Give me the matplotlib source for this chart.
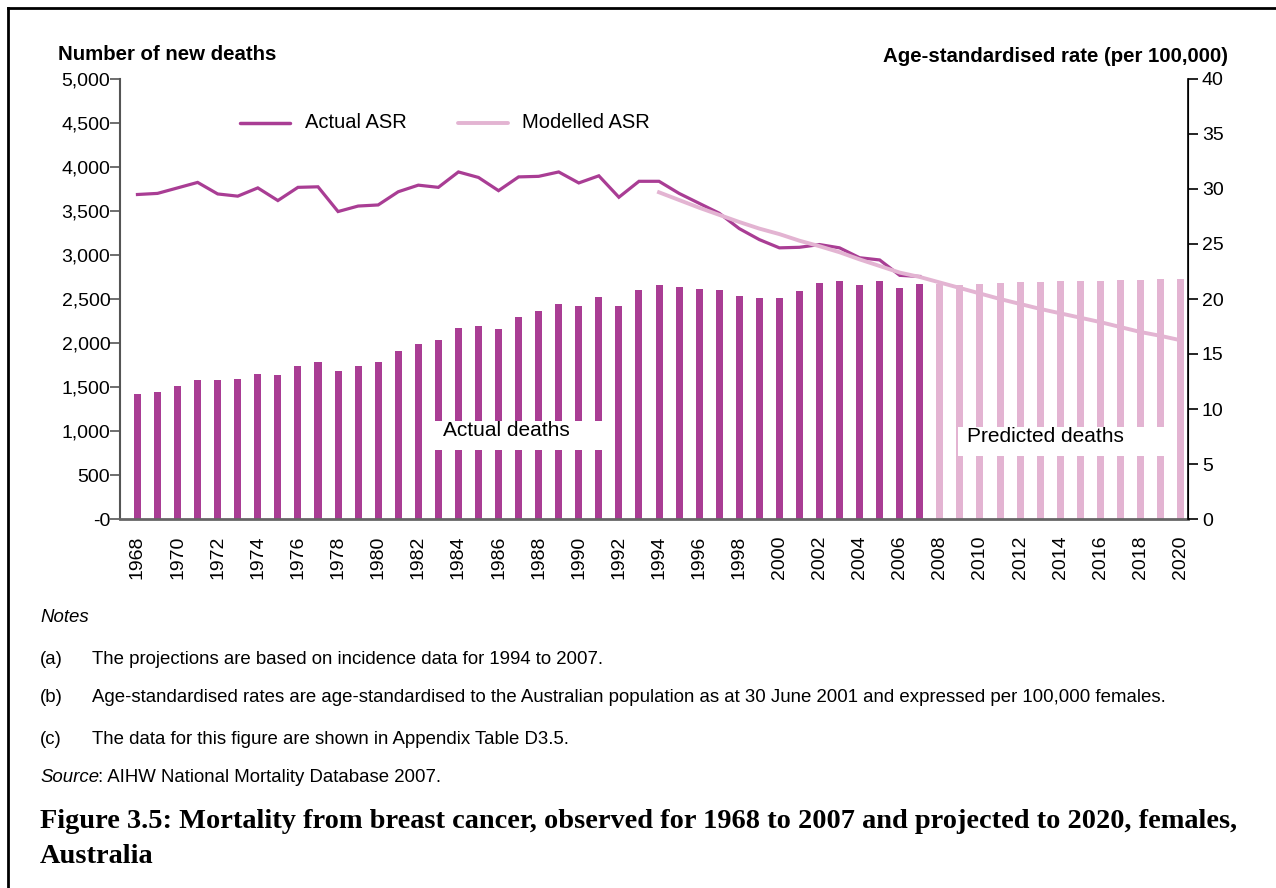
import matplotlib
matplotlib.use("Agg")
import matplotlib.pyplot as plt
from matplotlib.lines import Line2D
from matplotlib.patches import Rectangle
from matplotlib.ticker import FixedLocator, FuncFormatter

plt.rcParams["font.family"] = ["Liberation Sans", "DejaVu Sans"]

# observed deaths 1968-2007
actual_years = list(range(1968, 2008))
actual_deaths = [1420, 1443, 1511, 1580, 1580, 1591, 1648, 1636, 1739, 1784,
                 1682, 1739, 1784, 1909, 1989, 2034, 2170, 2193, 2159, 2295,
                 2364, 2443, 2420, 2523, 2420, 2602, 2659, 2636, 2614, 2602,
                 2534, 2511, 2511, 2591, 2682, 2705, 2659, 2705, 2625, 2670]

# projected deaths 2008-2020
pred_years = list(range(2008, 2021))
pred_deaths = [2670, 2659, 2670, 2682, 2693, 2693, 2705, 2705, 2705, 2716,
               2716, 2727, 2727]

# actual age-standardised rate 1968-2007
actual_asr = [29.5, 29.6, 30.1, 30.6, 29.55, 29.35, 30.1, 28.95, 30.15, 30.2,
              27.95, 28.45, 28.55, 29.75, 30.35, 30.15, 31.55, 31.05, 29.85, 31.1,
              31.15, 31.55, 30.55, 31.2, 29.25, 30.7, 30.7, 29.6, 28.7, 27.8,
              26.4, 25.4, 24.65, 24.7, 24.95, 24.65, 23.75, 23.55, 22.15, 22.05]

# modelled ASR 1994-2020
model_years = list(range(1994, 2021))
model_asr = [29.7, 29.0, 28.3, 27.65, 27.0, 26.4, 25.9, 25.3, 24.8, 24.25,
             23.6, 23.0, 22.4, 22.0, 21.5, 21.0, 20.5, 20.0, 19.55, 19.1,
             18.7, 18.3, 17.9, 17.45, 17.0, 16.65, 16.25]

left_ticks = list(range(0, 5001, 500))
right_ticks = list(range(0, 41, 5))
year_ticks = list(range(1968, 2021, 2))

purple = "#A93D94"
pink = "#E3B4D2"

fig = plt.figure(figsize=(12.76, 8.88), dpi=100)
W, H = 1276, 888
ax = fig.add_axes([120 / W, 1 - 519 / H, (1188 - 120) / W, 440 / H])
ax2 = ax.twinx()

ax.bar(actual_years, actual_deaths, width=0.35, color=purple, zorder=2)
ax.bar(pred_years, pred_deaths, width=0.35, color=pink, zorder=2)

ax.set_xlim(1967.13, 2020.37)
ax.set_ylim(0, 5000)
ax2.set_ylim(0, 40)

# white label boxes over the bars
ax.add_patch(Rectangle((1982.73, 784), 9.02, 330, facecolor="white",
                       edgecolor="none", zorder=3))
ax.text(1983.23, 1000, "Actual deaths", fontsize=15, va="center", ha="left",
        zorder=4)
ax.add_patch(Rectangle((2008.9, 716), 10.32, 329, facecolor="white",
                       edgecolor="none", zorder=3))
ax.text(2009.35, 943, "Predicted deaths", fontsize=15, va="center", ha="left",
        zorder=4)

ax2.plot(actual_years, actual_asr, color=purple, lw=2.3, solid_joinstyle="miter")
ax2.plot(model_years, model_asr, color=pink, lw=2.8)

# legend drawn by hand in axes coordinates
tr = ax2.transAxes
ax2.add_line(Line2D([0.1124, 0.1592], [0.9, 0.9], transform=tr, color=purple,
                    lw=2.5, solid_capstyle="round"))
ax2.text(0.1732, 0.9, "Actual ASR", transform=tr, fontsize=14.5, va="center")
ax2.add_line(Line2D([0.3165, 0.3633], [0.9, 0.9], transform=tr, color=pink,
                    lw=2.8, solid_capstyle="round"))
ax2.text(0.3764, 0.9, "Modelled ASR", transform=tr, fontsize=14.5, va="center")

# ticks and spines
ax.yaxis.set_major_locator(FixedLocator(left_ticks))
ax.yaxis.set_major_formatter(FuncFormatter(lambda v, p: "-0" if v == 0 else f"{int(v):,}"))
ax2.yaxis.set_major_locator(FixedLocator(right_ticks))
ax.set_xticks(year_ticks)
ax.set_xticklabels([str(y) for y in year_ticks], rotation=90, fontsize=14)
ax.tick_params(axis="x", length=0, pad=12)
ax.tick_params(axis="y", labelsize=14, length=7, width=1.2, color="#555555", pad=0)
ax2.tick_params(axis="y", labelsize=14, length=7, width=1.2, color="black", pad=3)

for a in (ax, ax2):
    a.spines["top"].set_visible(False)
ax.spines["left"].set_color("#555555")
ax.spines["left"].set_linewidth(1.5)
ax.spines["bottom"].set_color("#666666")
ax.spines["bottom"].set_linewidth(2)
ax2.spines["left"].set_visible(False)
ax2.spines["bottom"].set_visible(False)
ax2.spines["right"].set_color("black")
ax2.spines["right"].set_linewidth(1.2)

fig.text(58 / W, 1 - 54 / H, "Number of new deaths", fontsize=14.7,
         fontweight="bold", va="center", ha="left")
fig.text(1228 / W, 1 - 57 / H, "Age-standardised rate (per 100,000)",
         fontsize=14.7, fontweight="bold", va="center", ha="right")

# notes block
nfs = 13.4
fig.text(40 / W, 1 - 618 / H, "Notes", fontsize=nfs, style="italic", va="center")
notes = [
    ("(a)", "The projections are based on incidence data for 1994 to 2007."),
    ("(b)", "Age-standardised rates are age-standardised to the Australian "
            "population as at 30 June 2001 and expressed per 100,000 females."),
    ("(c)", "The data for this figure are shown in Appendix Table D3.5."),
]
for (tag, txt), yy in zip(notes, [659, 698, 739]):
    fig.text(40 / W, 1 - yy / H, tag, fontsize=nfs, va="center")
    fig.text(92 / W, 1 - yy / H, txt, fontsize=nfs, va="center")

src = fig.text(40 / W, 1 - 782 / H, "Source", fontsize=nfs, style="italic",
               va="baseline")
plt.annotate(": AIHW National Mortality Database 2007.", xy=(1, 0),
             xycoords=src, xytext=(-1, 0), textcoords="offset points",
             fontsize=nfs, va="bottom", ha="left", annotation_clip=False)

cap_font = dict(fontsize=20.4, fontweight="bold", family="Liberation Serif",
                va="center", ha="left")
fig.text(40 / W, 1 - 821 / H, "Figure 3.5: Mortality from breast cancer, observed "
         "for 1968 to 2007 and projected to 2020, females,", **cap_font)
fig.text(40 / W, 1 - 856 / H, "Australia", **cap_font)

# page frame (top and left edges)
fig.add_artist(Line2D([8 / W, 8 / W], [0, 1 - 8 / H], transform=fig.transFigure,
                      color="black", lw=2))
fig.add_artist(Line2D([8 / W, 1], [1 - 8 / H, 1 - 8 / H],
                      transform=fig.transFigure, color="black", lw=2))

fig.savefig("out.png", dpi=100)
